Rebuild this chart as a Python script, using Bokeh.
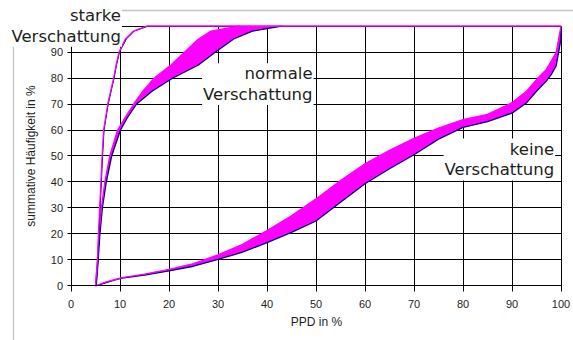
from bokeh.plotting import figure
from bokeh.models import Range1d, FixedTicker, Label, BoxAnnotation
from bokeh.embed import file_html
from bokeh.resources import INLINE

# ---- data ----
x_ticks = [0, 10, 20, 30, 40, 50, 60, 70, 80, 90, 100]
x_tick_labels = ["0", "10", "20", "30", "40", "50", "60", "70", "80", "90", "100"]
y_ticks = [0, 10, 20, 30, 40, 50, 60, 70, 80, 90, 100]
y_tick_labels = ["0", "10", "20", "30", "40", "50", "60", "70", "80", "90", "100"]

# starke Verschattung (cumulative frequency level -> PPD)
starke_y = [0, 10, 20, 30, 40, 50, 60, 70, 80, 85, 90, 95, 98, 100]
starke_x_upper = [5.0, 5.4, 5.6, 5.85, 6.1, 6.35, 6.65, 7.5, 8.7, 9.2, 9.8, 11.1, 12.7, 15.5]
starke_x_lower = [5.1, 5.5, 5.7, 5.95, 6.2, 6.45, 6.75, 7.6, 8.8, 9.3, 9.9, 11.3, 12.9, 15.8]

# normale Verschattung
normale_y = [0, 10, 20, 30, 40, 50, 60, 65, 70, 75, 80, 85, 90, 95, 98, 100]
normale_x_upper = [5.0, 5.4, 5.7, 6.2, 6.9, 7.9, 9.5, 11.1, 12.8, 14.7, 17.0, 20.4, 23.2, 26.0, 28.5, 34.5]
normale_x_lower = [5.15, 5.55, 5.9, 6.4, 7.2, 8.3, 10.1, 11.6, 13.4, 16.6, 20.8, 26.0, 29.5, 33.2, 37.0, 43.0]

# keine Verschattung (PPD -> cumulative frequency)
keine_x = [5, 7, 9, 10.4, 15, 20, 25, 30, 35, 40, 45, 50, 55, 60, 65, 70, 75, 80, 85, 90, 93, 95, 97, 98, 99, 99.5, 100, 100]
keine_y_upper = [0, 1.5, 2.5, 3.2, 4.6, 6.4, 8.6, 12.0, 16.0, 21.3, 27.0, 33.5, 40.6, 47.0, 52.2, 56.8, 60.7, 64.0, 66.0, 70.5, 75.0, 79.4, 83.3, 86.5, 89.8, 94.9, 100, 100]
keine_y_lower = [0, 1.2, 2.4, 3.0, 4.2, 5.8, 7.6, 10.2, 13.0, 16.7, 20.6, 25.0, 32.2, 39.3, 45.1, 50.5, 56.5, 61.0, 63.2, 66.5, 70.5, 74.9, 78.8, 81.3, 84.6, 89.8, 95, 100]

MAG = "#ff00ff"
NAVY = "#000080"
GRID = "#000000"
TXT = "#1e1e1e"
LABEL_FONT = "DejaVu Sans"
LABEL_SIZE = "16.5px"
LINE_H = 1.1

# the frame spans the whole canvas; data 0..100 sits where the original has it
# (4.9 px per x unit, 2.6 px per y unit, so grid lines fall on whole pixels)
p = figure(width=573, height=340, output_backend="svg", toolbar_location=None,
           x_range=Range1d(-14.388, 102.551), y_range=Range1d(-20.962, 109.808),
           min_border_left=0, min_border_right=0, min_border_top=0, min_border_bottom=0)
p.background_fill_color = "white"
p.border_fill_color = "white"
p.outline_line_color = None

# surrounding drawing box (partly hidden by the top-left label)
p.add_layout(BoxAnnotation(left=-11.75, right=120, top=105.96, bottom=-40,
                           fill_alpha=0, line_color="#3a3a3a", line_width=1.3))

# grids limited to the data area
has_cross = "cross_bounds" in p.xgrid[0].properties()
p.xgrid.ticker = FixedTicker(ticks=x_ticks)
p.ygrid.ticker = FixedTicker(ticks=y_ticks)
for g in (p.xgrid, p.ygrid):
    g.grid_line_color = GRID
    g.grid_line_width = 1
    g.grid_line_alpha = 1
    g.bounds = (0, 100)
    if has_cross:
        g.cross_bounds = (0, 100)
if not has_cross:
    p.xgrid.visible = False
    p.ygrid.visible = False
    p.segment(x0=x_ticks, y0=[y_ticks[0]] * len(x_ticks), x1=x_ticks, y1=[y_ticks[-1]] * len(x_ticks),
              line_color=GRID, line_width=1)
    p.segment(x0=[x_ticks[0]] * len(y_ticks), y0=y_ticks, x1=[x_ticks[-1]] * len(y_ticks), y1=y_ticks,
              line_color=GRID, line_width=1)

# axes drawn at the data origin
p.xaxis.ticker = FixedTicker(ticks=x_ticks)
p.yaxis.ticker = FixedTicker(ticks=y_ticks)
p.xaxis.major_label_overrides = {t: l for t, l in zip(x_ticks, x_tick_labels)}
p.yaxis.major_label_overrides = {t: l for t, l in zip(y_ticks, y_tick_labels)}
for ax in (p.xaxis, p.yaxis):
    ax.fixed_location = 0
    ax.bounds = (0, 100)
    ax.axis_line_color = GRID
    ax.major_tick_line_color = GRID
    ax.minor_tick_line_color = None
    ax.major_tick_in = 0
    ax.major_label_text_font = "Liberation Sans"
    ax.major_label_text_font_size = "11px"
    ax.major_label_text_color = TXT
    ax.axis_label_text_font = "Liberation Sans"
    ax.axis_label_text_font_size = "12px"
    ax.axis_label_text_font_style = "normal"
    ax.axis_label_text_color = TXT
p.xaxis.major_tick_out = 6
p.yaxis.major_tick_out = 4
p.xaxis.major_label_standoff = 8
p.yaxis.major_label_standoff = 4
p.xaxis.axis_label = "PPD in %"
p.yaxis.axis_label = "summative Häufigkeit in %"
p.xaxis.axis_label_standoff = 4
p.yaxis.axis_label_standoff = 4

# bands
p.varea(x=keine_x, y1=keine_y_lower, y2=keine_y_upper, fill_color=MAG)
p.line(keine_x, keine_y_lower, line_color=NAVY, line_width=1.3)
p.line(keine_x, keine_y_upper, line_color=MAG, line_width=1.3)

p.harea(y=normale_y, x1=normale_x_upper, x2=normale_x_lower, fill_color=MAG)
p.line(normale_x_lower, normale_y, line_color=NAVY, line_width=1.3)
p.line(normale_x_upper, normale_y, line_color=MAG, line_width=1.3)

p.harea(y=starke_y, x1=starke_x_upper, x2=starke_x_lower, fill_color=MAG)
p.line(starke_x_lower, starke_y, line_color=NAVY, line_width=1.0)
p.line(starke_x_upper + [100], starke_y + [100], line_color=MAG, line_width=1.3)


def make_label(x, y, text):
    return Label(x=x, y=y, text=text, text_align="right", text_baseline="bottom",
                 text_font=LABEL_FONT, text_font_size=LABEL_SIZE,
                 text_color=TXT, text_line_height=LINE_H,
                 background_fill_color="white", background_fill_alpha=1,
                 padding=1)


p.add_layout(make_label(49.5, 69.6, "normale\nVerschattung"))
p.add_layout(make_label(98.8, 40.6, "keine\nVerschattung"))
p.add_layout(make_label(10.4, 92.0, "starke\nVerschattung"))

open("out.html", "w").write(file_html(p, INLINE))
